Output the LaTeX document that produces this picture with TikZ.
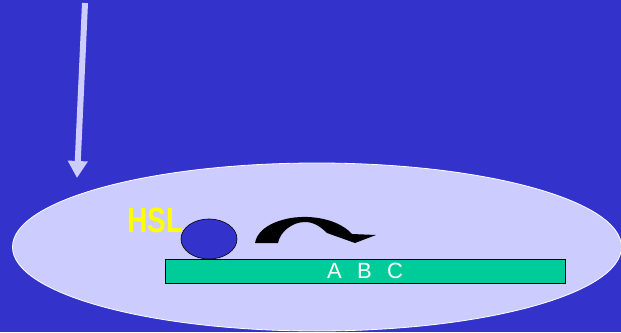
\documentclass[tikz,border=0pt]{standalone}
\usepackage{fontspec}
\setmainfont{Liberation Sans}
\usetikzlibrary{shapes.geometric,arrows.meta}
\definecolor{bgblue}{RGB}{51,51,204}
\definecolor{lilac}{RGB}{204,204,255}
\definecolor{barsea}{RGB}{0,204,153}
\definecolor{hslyellow}{RGB}{255,255,0}
\tikzset{
  cellshape/.style={ellipse, fill=lilac, draw=white, line width=0.8pt, minimum width=609pt, minimum height=168pt, inner sep=0pt},
  ballshape/.style={ellipse, fill=bgblue, draw=black, line width=0.6pt, minimum width=56pt, minimum height=40pt, inner sep=0pt},
  barshape/.style={rectangle, fill=barsea, draw=black, line width=0.6pt, minimum width=400pt, minimum height=24pt, inner sep=0pt, text=white, font=\fontsize{22pt}{24pt}\selectfont},
  hsllabel/.style={inner sep=0pt, text=hslyellow, font=\bfseries\fontsize{35pt}{38pt}\selectfont},
  bigarrow/.style={draw=lilac, line width=6pt, -{Triangle[width=19pt,length=17pt]}},
  turnarrow/.style={fill=black, draw=none}
}
\begin{document}
\begin{tikzpicture}[x=1pt,y=-1pt]
\useasboundingbox (0,0) rectangle (621,332);
\fill[bgblue] (0,0) rectangle (621,332);
\node[cellshape] (cell) at (317,247) {};
\coordinate (arrowtop) at (85,3);
\coordinate (arrowtip) at (77,178);
\draw[bigarrow] (arrowtop) -- (arrowtip);
\node[barshape] (bar) at (365,271) {A\hspace{15.3pt}B\hspace{15.3pt}C};
\node[ballshape] (ball) at (209,239) {};
\node[hsllabel, anchor=base west] (hsl) at (127,232) {\scalebox{0.8}[1]{HSL}};
\fill[turnarrow] (255,243) .. controls (258,225) and (285,216) .. (308,217)
  .. controls (330,218) and (345,226) .. (352,234) -- (376,235) -- (355,243) -- (327,233)
  .. controls (320,226) and (313,222) .. (305,222)
  .. controls (292,222) and (280,232) .. (278,243) -- cycle;
\end{tikzpicture}
\end{document}
